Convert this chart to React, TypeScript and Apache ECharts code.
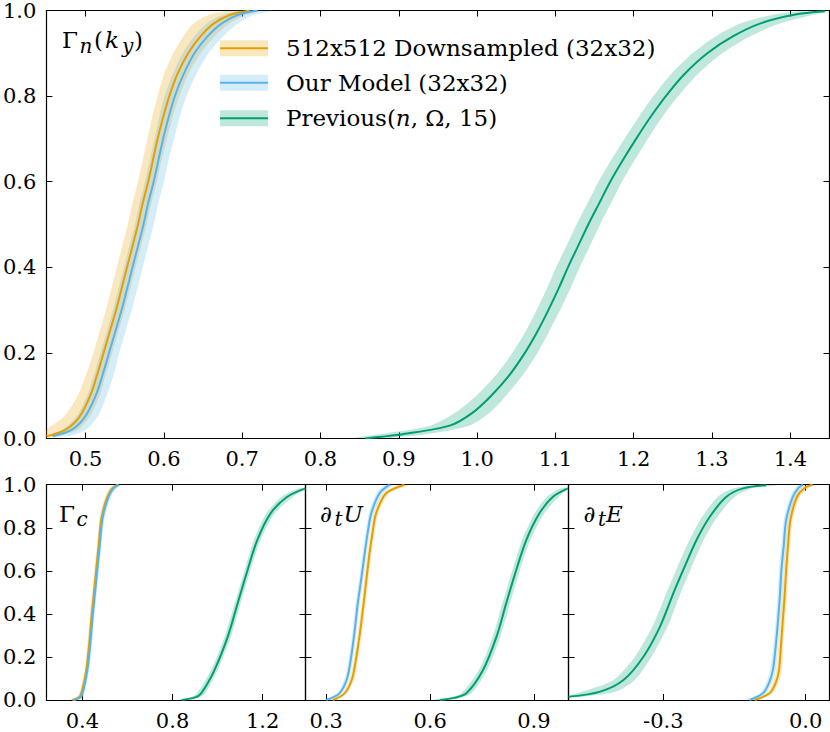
import React, { useEffect, useRef } from "react";
import * as echarts from "echarts";

// ---------- colours ----------
const ORANGE = "#E69F00";
const BLUE = "#56B4E9";
const GREEN = "#009E73";
const ORANGE_BAND = "rgba(230,159,0,0.25)";
const BLUE_BAND = "rgba(86,180,233,0.25)";
const GREEN_BAND = "rgba(0,158,115,0.25)";

// ---------- legend ----------
const legendNames = ["512x512 Downsampled (32x32)", "Our Model (32x32)", "Previous(n, Ω, 15)"];

// ---------- tick values ----------
const topXTicks = [0.5, 0.6, 0.7, 0.8, 0.9, 1.0, 1.1, 1.2, 1.3, 1.4];
const p1XTicks = [0.4, 0.8, 1.2];
const p2XTicks = [0.3, 0.6, 0.9];
const p3XTicks = [-0.3, 0.0];

// ---------- top panel: Γn(ky) ----------
const topY = [0.005, 0.02, 0.05, 0.1, 0.15, 0.2, 0.25, 0.3, 0.35, 0.4, 0.45, 0.5, 0.55, 0.6, 0.65, 0.7, 0.75, 0.8, 0.85, 0.9, 0.94, 0.97, 0.99, 1.0];
const topOrange = [0.45, 0.474, 0.492, 0.506, 0.515, 0.523, 0.531, 0.539, 0.546, 0.553, 0.56, 0.567, 0.573, 0.58, 0.586, 0.592, 0.599, 0.607, 0.617, 0.631, 0.647, 0.664, 0.685, 0.71];
const topOrangeLo = [0.45, 0.45, 0.472, 0.49, 0.501, 0.51, 0.518, 0.526, 0.533, 0.54, 0.547, 0.554, 0.56, 0.567, 0.573, 0.579, 0.585, 0.592, 0.6, 0.612, 0.625, 0.638, 0.658, 0.685];
const topOrangeHi = [0.462, 0.49, 0.505, 0.518, 0.526, 0.534, 0.542, 0.55, 0.557, 0.564, 0.571, 0.578, 0.584, 0.591, 0.597, 0.604, 0.611, 0.62, 0.631, 0.647, 0.665, 0.684, 0.705, 0.725];
const topBlue = [0.458, 0.482, 0.499, 0.513, 0.522, 0.53, 0.538, 0.546, 0.553, 0.56, 0.567, 0.574, 0.58, 0.587, 0.593, 0.599, 0.606, 0.614, 0.625, 0.639, 0.656, 0.674, 0.695, 0.72];
const topBlueLo = [0.45, 0.47, 0.488, 0.502, 0.511, 0.519, 0.527, 0.535, 0.542, 0.549, 0.556, 0.563, 0.569, 0.576, 0.582, 0.588, 0.594, 0.601, 0.611, 0.624, 0.639, 0.655, 0.675, 0.7];
const topBlueHi = [0.475, 0.5, 0.515, 0.527, 0.536, 0.543, 0.551, 0.559, 0.566, 0.573, 0.58, 0.587, 0.593, 0.6, 0.606, 0.613, 0.62, 0.629, 0.641, 0.657, 0.676, 0.695, 0.715, 0.74];
const topGreenY = [0, 0.004, 0.01, 0.03, 0.06, 0.1, 0.15, 0.2, 0.25, 0.3, 0.35, 0.4, 0.45, 0.5, 0.55, 0.6, 0.65, 0.7, 0.75, 0.8, 0.85, 0.9, 0.94, 0.97, 0.99, 0.998];
const topGreen = [0.857, 0.877, 0.905, 0.965, 0.994, 1.018, 1.042, 1.061, 1.077, 1.091, 1.104, 1.116, 1.129, 1.142, 1.156, 1.17, 1.186, 1.203, 1.221, 1.241, 1.264, 1.294, 1.327, 1.362, 1.405, 1.444];
const topGreenLo = [0.84, 0.852, 0.875, 0.94, 0.972, 0.999, 1.025, 1.045, 1.062, 1.076, 1.089, 1.101, 1.114, 1.127, 1.141, 1.155, 1.171, 1.188, 1.206, 1.225, 1.247, 1.275, 1.305, 1.337, 1.378, 1.414];
const topGreenHi = [0.88, 0.905, 0.935, 0.99, 1.016, 1.037, 1.059, 1.077, 1.092, 1.106, 1.119, 1.131, 1.144, 1.157, 1.171, 1.185, 1.201, 1.218, 1.236, 1.257, 1.281, 1.313, 1.349, 1.387, 1.43, 1.45];

// ---------- panel 1: Γc ----------
const p1Y = [0, 0.015, 0.05, 0.139, 0.25, 0.372, 0.5, 0.604, 0.72, 0.836, 0.9, 0.946, 0.98, 1.0];
const p1Blue = [0.362, 0.393, 0.405, 0.422, 0.434, 0.444, 0.456, 0.466, 0.477, 0.488, 0.502, 0.517, 0.535, 0.561];
const p1BlueLo = [0.35, 0.383, 0.396, 0.414, 0.426, 0.436, 0.448, 0.458, 0.469, 0.479, 0.492, 0.506, 0.522, 0.545];
const p1BlueHi = [0.375, 0.402, 0.414, 0.43, 0.442, 0.452, 0.464, 0.474, 0.485, 0.497, 0.512, 0.528, 0.548, 0.575];
const p1Orange = [0.355, 0.387, 0.4, 0.417, 0.429, 0.439, 0.451, 0.461, 0.472, 0.483, 0.497, 0.512, 0.53, 0.556];
const p1OrangeLo = [0.343, 0.377, 0.391, 0.409, 0.421, 0.431, 0.443, 0.453, 0.464, 0.474, 0.487, 0.501, 0.517, 0.54];
const p1OrangeHi = [0.368, 0.396, 0.409, 0.425, 0.437, 0.447, 0.459, 0.469, 0.48, 0.492, 0.507, 0.523, 0.543, 0.57];
const p1GreenY = [0, 0.012, 0.031, 0.139, 0.294, 0.449, 0.604, 0.743, 0.867, 0.944, 0.983];
const p1Green = [0.84, 0.9, 0.927, 0.986, 1.045, 1.089, 1.133, 1.176, 1.235, 1.309, 1.39];
const p1GreenLo = [0.82, 0.878, 0.908, 0.971, 1.031, 1.076, 1.12, 1.161, 1.216, 1.284, 1.36];
const p1GreenHi = [0.86, 0.92, 0.945, 1.0, 1.059, 1.102, 1.146, 1.191, 1.254, 1.334, 1.39];

// ---------- panel 2: ∂tU ----------
const p2Y = [0, 0.031, 0.1, 0.201, 0.32, 0.449, 0.56, 0.681, 0.78, 0.867, 0.96, 1.0];
const p2Blue = [0.3, 0.338, 0.36, 0.372, 0.382, 0.391, 0.401, 0.411, 0.42, 0.43, 0.454, 0.483];
const p2BlueLo = [0.29, 0.331, 0.353, 0.366, 0.376, 0.385, 0.395, 0.405, 0.414, 0.423, 0.445, 0.47];
const p2BlueHi = [0.31, 0.345, 0.367, 0.378, 0.388, 0.397, 0.407, 0.417, 0.426, 0.437, 0.463, 0.495];
const p2Orange = [0.319, 0.353, 0.375, 0.387, 0.398, 0.408, 0.416, 0.425, 0.434, 0.444, 0.473, 0.526];
const p2OrangeLo = [0.309, 0.346, 0.368, 0.381, 0.392, 0.402, 0.41, 0.419, 0.428, 0.437, 0.464, 0.51];
const p2OrangeHi = [0.329, 0.36, 0.382, 0.393, 0.404, 0.414, 0.422, 0.431, 0.44, 0.451, 0.482, 0.54];
const p2GreenY = [0, 0.01, 0.031, 0.139, 0.294, 0.449, 0.604, 0.743, 0.867, 0.944, 0.983];
const p2Green = [0.628, 0.67, 0.705, 0.753, 0.792, 0.82, 0.849, 0.878, 0.916, 0.955, 0.998];
const p2GreenLo = [0.61, 0.652, 0.69, 0.741, 0.781, 0.809, 0.838, 0.866, 0.902, 0.938, 0.978];
const p2GreenHi = [0.645, 0.688, 0.72, 0.765, 0.803, 0.831, 0.86, 0.89, 0.93, 0.972, 1.0];

// ---------- panel 3: ∂tE ----------
const p3Y = [0, 0.031, 0.08, 0.139, 0.25, 0.372, 0.49, 0.604, 0.72, 0.836, 0.944, 0.985, 1.0];
const p3Blue = [-0.118, -0.09, -0.077, -0.069, -0.063, -0.058, -0.054, -0.051, -0.046, -0.041, -0.027, -0.015, -0.006];
const p3BlueLo = [-0.125, -0.096, -0.083, -0.075, -0.068, -0.063, -0.059, -0.056, -0.051, -0.046, -0.033, -0.022, -0.014];
const p3BlueHi = [-0.11, -0.084, -0.071, -0.063, -0.058, -0.053, -0.049, -0.046, -0.041, -0.036, -0.021, -0.008, 0.002];
const p3Orange = [-0.107, -0.076, -0.063, -0.056, -0.052, -0.048, -0.044, -0.041, -0.037, -0.032, -0.018, -0.002, 0.015];
const p3OrangeLo = [-0.114, -0.082, -0.069, -0.062, -0.057, -0.053, -0.049, -0.046, -0.042, -0.037, -0.024, -0.01, 0.006];
const p3OrangeHi = [-0.1, -0.07, -0.057, -0.05, -0.047, -0.043, -0.039, -0.036, -0.032, -0.027, -0.012, 0.006, 0.024];
const p3GreenY = [0.015, 0.039, 0.093, 0.201, 0.341, 0.495, 0.604, 0.743, 0.851, 0.944, 0.983, 0.998];
const p3Green = [-0.5, -0.433, -0.384, -0.342, -0.307, -0.279, -0.258, -0.23, -0.202, -0.167, -0.132, -0.083];
const p3GreenLo = [-0.5, -0.47, -0.405, -0.36, -0.323, -0.294, -0.273, -0.245, -0.218, -0.185, -0.152, -0.105];
const p3GreenHi = [-0.47, -0.4, -0.36, -0.325, -0.291, -0.264, -0.243, -0.215, -0.186, -0.149, -0.112, -0.06];

const SERIF = "DejaVu Serif";
const TICK_FONT = 21;

function band(ax: number, y: number[], lo: number[], hi: number[], fill: string, z: number) {
  return {
    type: "custom",
    coordinateSystem: "cartesian2d",
    xAxisIndex: ax * 2,
    yAxisIndex: ax * 2,
    clip: true,
    silent: true,
    z,
    data: [[lo[0], y[0]]],
    renderItem: (_p: any, api: any) => {
      const pts: number[][] = [];
      for (let i = 0; i < y.length; i++) pts.push(api.coord([lo[i], y[i]]));
      for (let i = y.length - 1; i >= 0; i--) pts.push(api.coord([hi[i], y[i]]));
      return { type: "polygon", shape: { points: pts, smooth: 0.25 }, style: { fill, stroke: null } };
    },
  };
}

function line(ax: number, x: number[], y: number[], color: string, z: number) {
  return {
    type: "line",
    xAxisIndex: ax * 2,
    yAxisIndex: ax * 2,
    data: x.map((v, i) => [v, y[i]]),
    showSymbol: false,
    smooth: 0.3,
    silent: true,
    clip: true,
    z,
    lineStyle: { color, width: 2 },
    itemStyle: { color },
  };
}

const tickStyle = { color: "#000", width: 1 };
const axisLineStyle = { color: "#000", width: 1.2 };
const fmt = (v: number) => v.toFixed(1);

function xAxes(grid: number, min: number, max: number, ticks: number[]) {
  const base = {
    type: "value",
    gridIndex: grid,
    min,
    max,
    splitLine: { show: false },
    axisLine: { show: true, onZero: false, lineStyle: axisLineStyle },
    axisTick: { show: true, inside: true, length: 6, customValues: ticks, lineStyle: tickStyle },
  };
  return [
    {
      ...base,
      position: "bottom",
      axisLabel: { show: true, customValues: ticks, formatter: fmt, color: "#000", fontFamily: SERIF, fontSize: TICK_FONT, margin: 10 },
    },
    { ...base, position: "top", axisLabel: { show: false } },
  ];
}

function yAxes(grid: number, labels: boolean) {
  const base = {
    type: "value",
    gridIndex: grid,
    min: 0,
    max: 1,
    interval: 0.2,
    splitLine: { show: false },
    axisLine: { show: true, onZero: false, lineStyle: axisLineStyle },
    axisTick: { show: true, inside: true, length: 6, lineStyle: tickStyle },
  };
  return [
    {
      ...base,
      position: "left",
      axisLabel: { show: labels, formatter: fmt, color: "#000", fontFamily: SERIF, fontSize: TICK_FONT, margin: 10 },
    },
    { ...base, position: "right", axisLabel: { show: false } },
  ];
}

function txt(x: number, y: number, text: string, size: number, italic = false) {
  return {
    type: "text",
    x,
    y,
    silent: true,
    z: 102,
    style: {
      text,
      fill: "#000",
      font: `${italic ? "italic " : ""}${size}px '${SERIF}'`,
      verticalAlign: "middle",
      align: "left",
    },
  };
}

export default function App() {
  const ref = useRef<HTMLDivElement>(null);
  useEffect(() => {
    document.body.style.margin = "0";
    if (!ref.current) return;
    const chart = echarts.init(ref.current, undefined, { renderer: "svg" });

    const legendRows = [
      { cy: 48.3, c: ORANGE, b: ORANGE_BAND },
      { cy: 82.8, c: BLUE, b: BLUE_BAND },
      { cy: 118.3, c: GREEN, b: GREEN_BAND },
    ];
    const legendEls: any[] = [];
    legendRows.forEach((r, i) => {
      legendEls.push({ type: "rect", shape: { x: 220, y: r.cy - 8, width: 48, height: 16 }, style: { fill: r.b }, silent: true, z: 100 });
      legendEls.push({ type: "line", shape: { x1: 220, y1: r.cy, x2: 268, y2: r.cy }, style: { stroke: r.c, lineWidth: 2 }, silent: true, z: 101 });
      const name = legendNames[i];
      if (i === 2) {
        legendEls.push({
          type: "text",
          x: 286,
          y: r.cy,
          silent: true,
          z: 101,
          style: {
            text: "{a|Previous(}{i|n}{a|, Ω, 15)}",
            verticalAlign: "middle",
            rich: {
              a: { fontFamily: SERIF, fontSize: 23, fill: "#000" },
              i: { fontFamily: SERIF, fontSize: 23, fontStyle: "italic", fill: "#000" },
            },
          },
        });
      } else {
        legendEls.push({ ...txt(286, r.cy, name, 23), z: 101 });
      }
    });

    const labelEls: any[] = [
      // Γn(ky)
      txt(62, 40.3, "Γ", 23),
      txt(79.5, 45.5, "n", 20, true),
      txt(94, 40.3, "(", 23),
      txt(105, 40.3, "k", 23, true),
      txt(122, 45.5, "y", 20, true),
      txt(134, 40.3, ")", 23),
      // Γc
      txt(59, 513.7, "Γ", 23),
      txt(76.5, 519, "c", 20, true),
      // ∂tU
      txt(320, 513.7, "∂", 23),
      txt(334.5, 519, "t", 20, true),
      txt(343.5, 513.7, "U", 23, true),
      // ∂tE
      txt(583.5, 513.7, "∂", 23),
      txt(598, 519, "t", 20, true),
      txt(606, 513.7, "E", 23, true),
    ];

    const option: any = {
      animation: false,
      backgroundColor: "#fff",
      grid: [
        { left: 43.5, top: 7.5, width: 786, height: 431 },
        { left: 43.3, top: 484.7, width: 262.2, height: 215.3 },
        { left: 305.5, top: 484.7, width: 263, height: 215.3 },
        { left: 568.5, top: 484.7, width: 260.8, height: 215.3 },
      ],
      xAxis: [
        ...xAxes(0, 0.45, 1.45, topXTicks),
        ...xAxes(1, 0.24, 1.39, p1XTicks),
        ...xAxes(2, 0.24, 1.0, p2XTicks),
        ...xAxes(3, -0.5, 0.05, p3XTicks),
      ],
      yAxis: [...yAxes(0, true), ...yAxes(1, true), ...yAxes(2, false), ...yAxes(3, false)],
      series: [
        // top
        band(0, topY, topOrangeLo, topOrangeHi, ORANGE_BAND, 1),
        band(0, topY, topBlueLo, topBlueHi, BLUE_BAND, 1),
        band(0, topGreenY, topGreenLo, topGreenHi, GREEN_BAND, 1),
        line(0, topOrange, topY, ORANGE, 3),
        line(0, topBlue, topY, BLUE, 3),
        line(0, topGreen, topGreenY, GREEN, 3),
        // panel 1
        band(1, p1Y, p1OrangeLo, p1OrangeHi, ORANGE_BAND, 1),
        band(1, p1Y, p1BlueLo, p1BlueHi, BLUE_BAND, 1),
        band(1, p1GreenY, p1GreenLo, p1GreenHi, GREEN_BAND, 1),
        line(1, p1Orange, p1Y, ORANGE, 3),
        line(1, p1Blue, p1Y, BLUE, 3),
        line(1, p1Green, p1GreenY, GREEN, 3),
        // panel 2
        band(2, p2Y, p2OrangeLo, p2OrangeHi, ORANGE_BAND, 1),
        band(2, p2Y, p2BlueLo, p2BlueHi, BLUE_BAND, 1),
        band(2, p2GreenY, p2GreenLo, p2GreenHi, GREEN_BAND, 1),
        line(2, p2Orange, p2Y, ORANGE, 3),
        line(2, p2Blue, p2Y, BLUE, 3),
        line(2, p2Green, p2GreenY, GREEN, 3),
        // panel 3
        band(3, p3Y, p3OrangeLo, p3OrangeHi, ORANGE_BAND, 1),
        band(3, p3Y, p3BlueLo, p3BlueHi, BLUE_BAND, 1),
        band(3, p3GreenY, p3GreenLo, p3GreenHi, GREEN_BAND, 1),
        line(3, p3Orange, p3Y, ORANGE, 3),
        line(3, p3Blue, p3Y, BLUE, 3),
        line(3, p3Green, p3GreenY, GREEN, 3),
      ],
      graphic: [...legendEls, ...labelEls],
    };
    chart.setOption(option);
    return () => chart.dispose();
  }, []);
  return <div ref={ref} style={{ width: 830, height: 732 }} />;
}
